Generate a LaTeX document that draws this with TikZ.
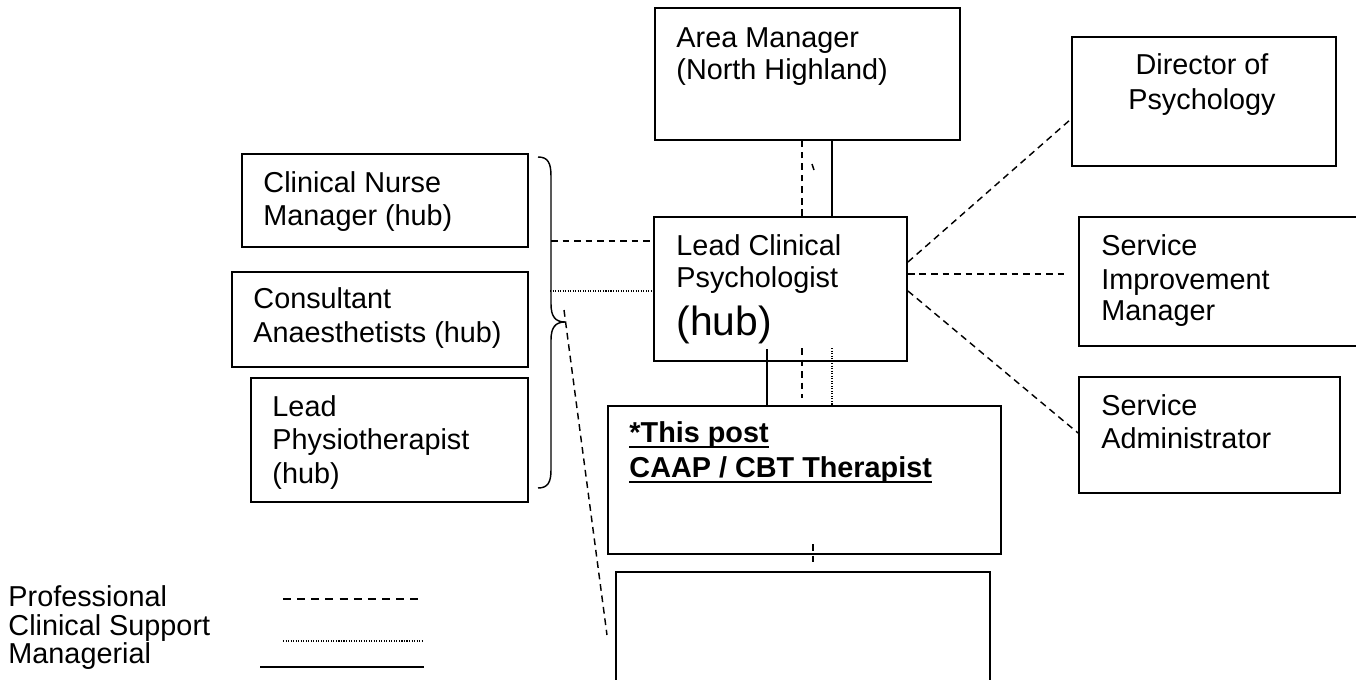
\documentclass[tikz,border=0pt]{standalone}
\usepackage{fontspec}
\setmainfont{Liberation Sans}
\usetikzlibrary{fit}
\begin{document}
\begin{tikzpicture}[x=0.416667pt,y=-0.416667pt,
  box/.style={draw, line width=0.8pt, inner sep=0pt, rectangle},
  txt/.style={inner sep=0pt, anchor=base west, font=\fontsize{12}{14}\selectfont},
  ctxt/.style={txt, anchor=base},
  bigtxt/.style={txt, font=\fontsize{17}{20}\selectfont},
  boldtxt/.style={txt, font=\fontsize{12}{14}\selectfont\bfseries},
  prof/.style={line width=0.6pt, dash pattern=on 2.8pt off 2.0pt},
  legprof/.style={line width=0.6pt, dash pattern=on 3.3pt off 2.6pt},
  supp/.style={line width=0.45pt, dash pattern=on 0.45pt off 0.6pt},
  mgr/.style={line width=0.9pt},
  legmgr/.style={line width=1.2pt},
  ul/.style={line width=1.2pt},
  bracestyle/.style={line width=0.6pt}
]
\useasboundingbox (0,0) rectangle (1356,680);
\clip (0,0) rectangle (1356,680);

% boxes
\node[box, fit={(655,8) (960,140)}] (am) {};
\node[box, fit={(654,217) (907,361)}] (lead) {};
\node[box, fit={(1072,37) (1336,166)}] (dir) {};
\node[box, fit={(1079,217) (1380,346)}] (sim) {};
\node[box, fit={(1079,377) (1340,493)}] (sa) {};
\node[box, fit={(242,154) (528,247)}] (cnm) {};
\node[box, fit={(232,272) (528,367)}] (ca) {};
\node[box, fit={(251,378) (528,502)}] (lp) {};
\node[box, line width=1pt, fit={(608,406) (1001,554)}] (post) {};
\node[box, fit={(616,572) (990,720)}] (blank) {};

% texts
\node[txt] (amt1) at (676,47) {Area Manager};
\node[txt] (amt2) at (676,79) {(North Highland)};
\node[txt] (lt1) at (676,255) {Lead Clinical};
\node[txt] (lt2) at (676,287) {Psychologist};
\node[bigtxt] (lt3) at (676,335) {(hub)};
\node[ctxt] (dt1) at (1202,74) {Director of};
\node[ctxt] (dt2) at (1202,109) {Psychology};
\node[txt] (st1) at (1101,255) {Service};
\node[txt] (st2) at (1101,289) {Improvement};
\node[txt] (st3) at (1101,320) {Manager};
\node[txt] (sa1) at (1101,415) {Service};
\node[txt] (sa2) at (1101,448) {Administrator};
\node[txt] (cn1) at (263,192) {Clinical Nurse};
\node[txt] (cn2) at (263,225) {Manager (hub)};
\node[txt] (ca1) at (253,308) {Consultant};
\node[txt] (ca2) at (253,342) {Anaesthetists (hub)};
\node[txt] (lp1) at (272,416) {Lead};
\node[txt] (lp2) at (272,449) {Physiotherapist};
\node[txt] (lp3) at (272,483) {(hub)};
\node[boldtxt] (pt1) at (629,442) {*This post};
\node[boldtxt] (pt2) at (629,477) {CAAP / CBT Therapist};
\draw[ul] ([yshift=-2.1pt]pt1.base west) -- ([yshift=-2.1pt]pt1.base east);
\draw[ul] ([yshift=-2.1pt]pt2.base west) -- ([yshift=-2.1pt]pt2.base east);

% connectors between Area Manager and Lead
\draw[prof] (lead.north -| 802,0) -- (am.south -| 802,0);
\draw[mgr] (lead.north -| 832,0) -- (am.south -| 832,0);
\coordinate (tickA) at (812,164);
\coordinate (tickB) at (814,170);
\draw[line width=0.6pt] (tickA) -- (tickB);

% Lead to this post
\coordinate (m1) at (767,349);
\coordinate (p1) at (802,348);
\coordinate (p2) at (802,398);
\coordinate (s1) at (832,348);
\coordinate (s2) at (832,408);
\draw[mgr] (m1) -- (post.north -| m1);
\draw[prof] (p1) -- (p2);
\draw[supp] (s1) -- (s2);

% Lead to right boxes
\draw[prof] (lead.east |- 0,262) -- (dir.west |- 0,119);
\draw[prof] (lead.east |- 0,274) -- ([xshift=-4.6pt]sim.west |- 0,274);
\draw[prof] (lead.east |- 0,291) -- (sa.west |- 0,433);

% brace
\coordinate (brtip) at (565,322);
\draw[bracestyle] (538,157) .. controls (548,157) and (551,163) .. (551,176)
  -- (551,304) .. controls (551,316) and (555,322) .. (brtip)
  .. controls (555,322) and (551,328) .. (551,340)
  -- (551,470) .. controls (551,482) and (548,488) .. (538,488);
\coordinate (brA) at (551,241);
\coordinate (brB) at (550,291);
\coordinate (brC) at (564,310);
\coordinate (blk) at (607,635);
\draw[prof] (brA) -- (lead.west |- brA);
\draw[supp] (brB) -- (lead.west |- brB);
\draw[prof] (brC) -- (blk);

% post to blank
\coordinate (q1) at (813,544);
\coordinate (q2) at (813,565);
\draw[prof] (q1) -- (q2);

% legend
\node[txt] (lg1) at (8,606) {Professional};
\node[txt] (lg2) at (8,635) {Clinical Support};
\node[txt] (lg3) at (8,663) {Managerial};
\coordinate (la1) at (283,599);
\coordinate (la2) at (424,599);
\coordinate (lb1) at (283,641);
\coordinate (lb2) at (424,641);
\coordinate (lc1) at (260,667);
\coordinate (lc2) at (424,667);
\draw[legprof] (la1) -- (la2);
\draw[supp] (lb1) -- (lb2);
\draw[legmgr] (lc1) -- (lc2);
\end{tikzpicture}
\end{document}
